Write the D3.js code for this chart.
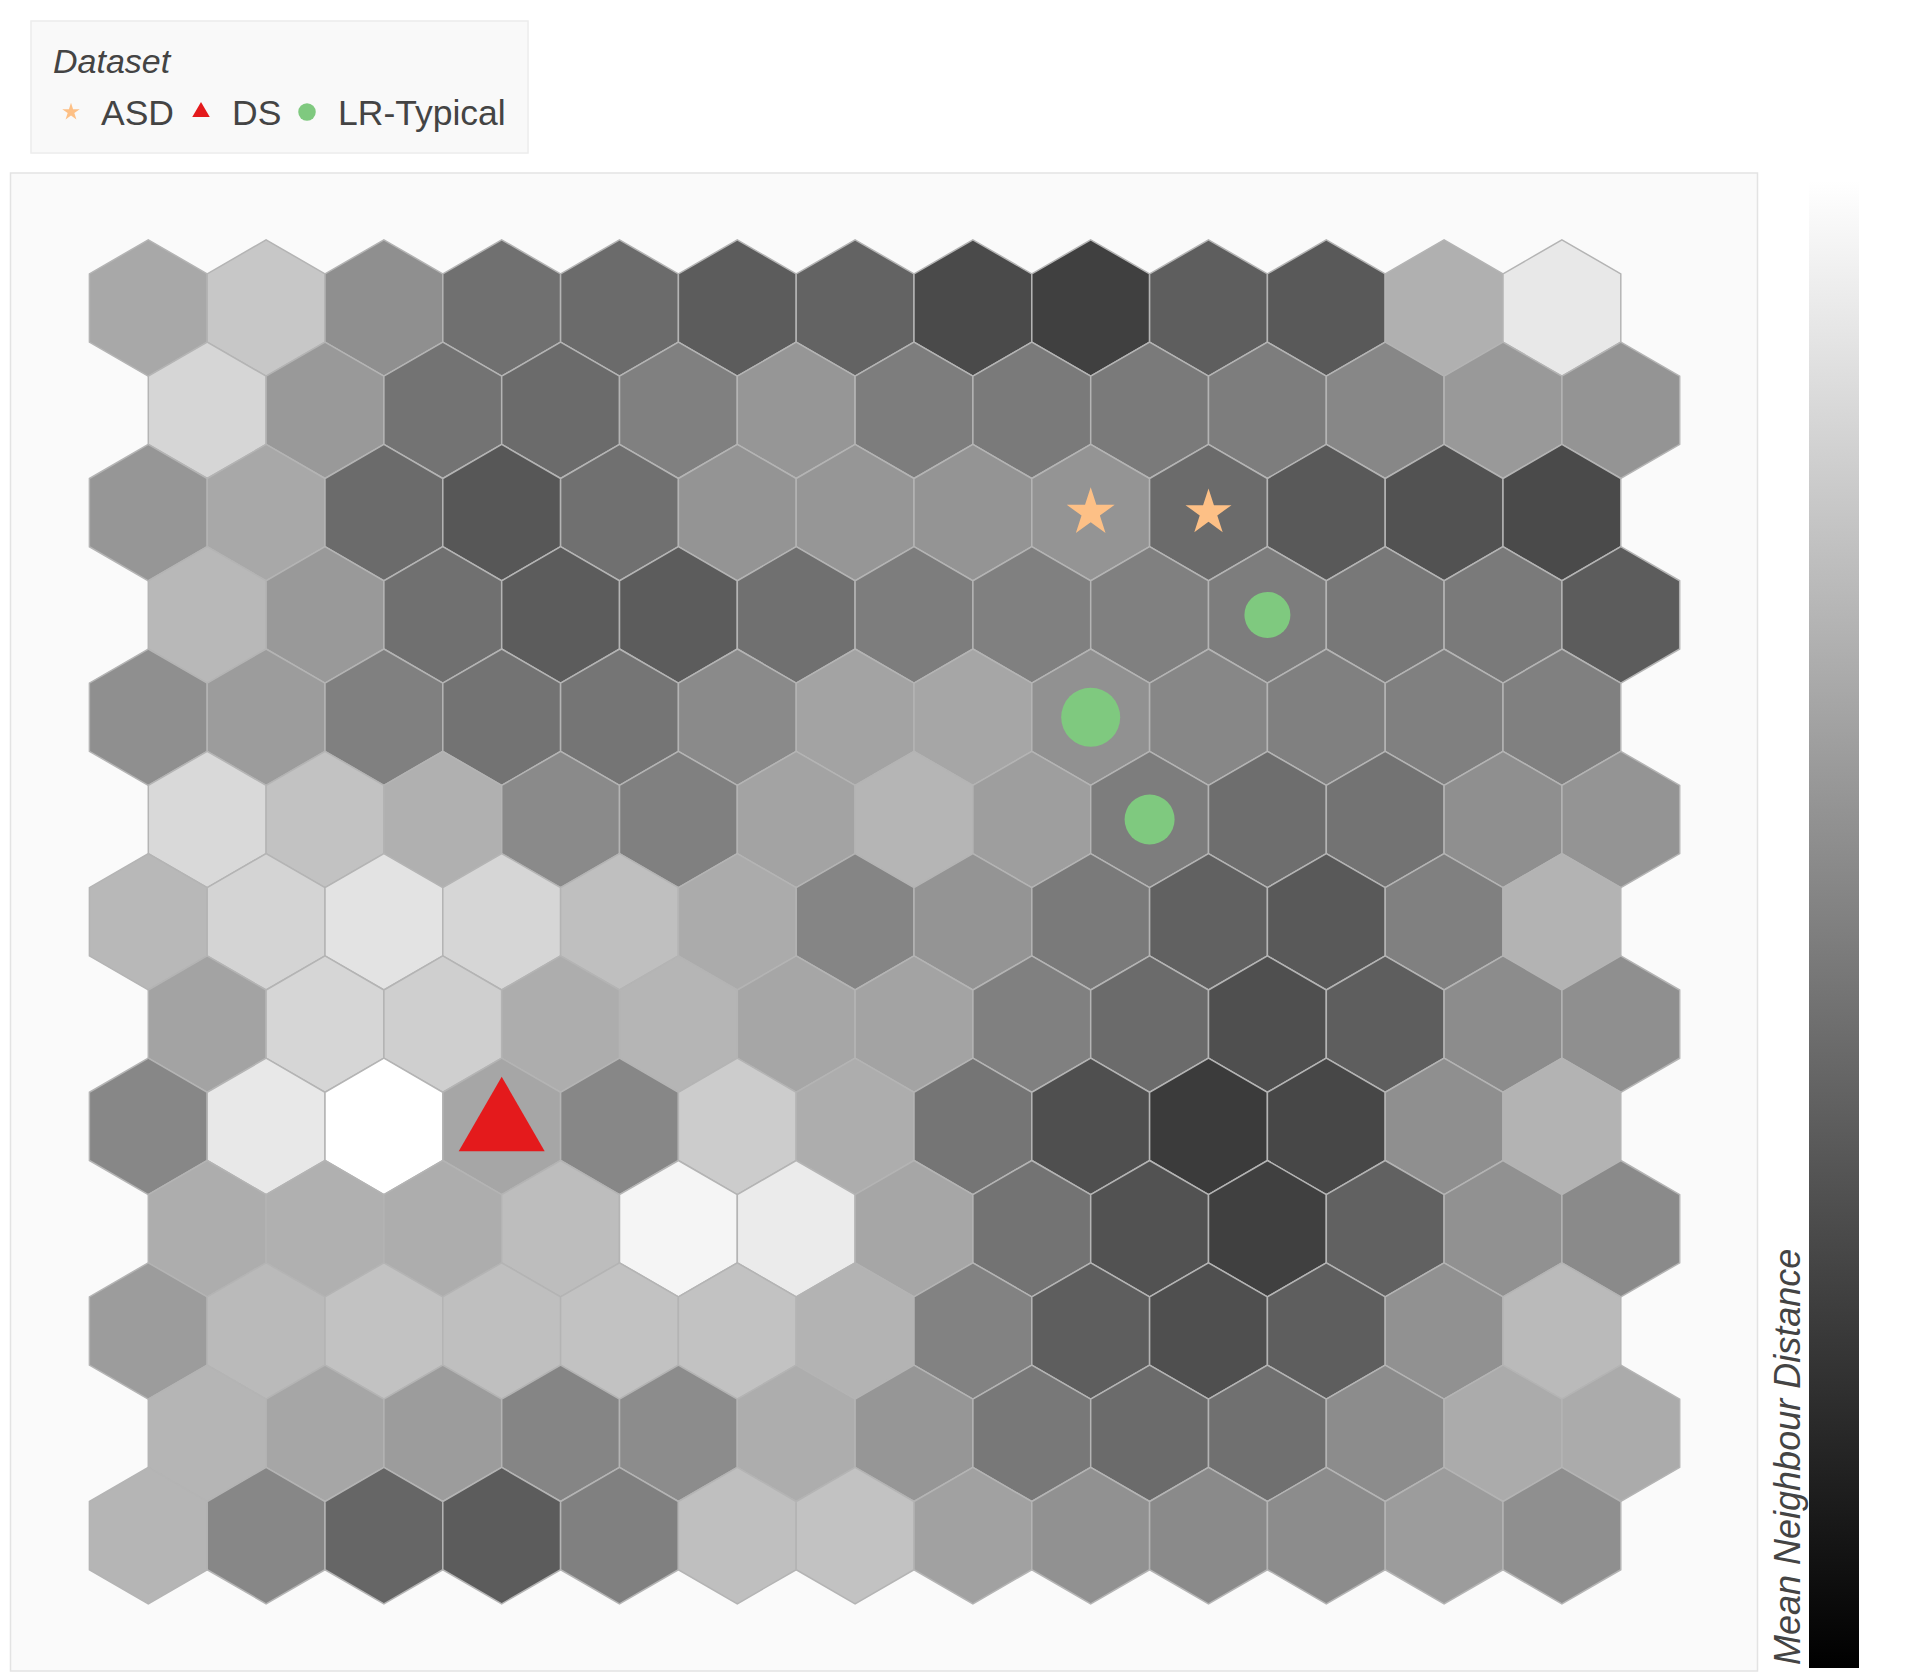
<!DOCTYPE html>
<html>
<head>
<meta charset="utf-8">
<script src="https://cdn.jsdelivr.net/npm/d3@7"></script>
<style>
  body { margin: 0; background: #fff; }
  text { font-family: "Liberation Sans", Arial, sans-serif; fill: #444; }
</style>
</head>
<body>
<svg id="chart" width="1920" height="1680"></svg>
<script>
   // mean neighbour distance of each SOM node (0 = close, 1 = far), 13 x 13 hex grid,
   // odd rows are shifted half a cell to the right
   var neighbourDistance = [
      [.66, .78, .56, .44, .42, .36, .39, .29, .25, .37, .35, .69, .91],
      [.84, .60, .45, .42, .50, .59, .49, .48, .48, .49, .53, .60, .58],
      [.59, .66, .42, .34, .44, .58, .59, .58, .58, .42, .35, .32, .29],
      [.72, .60, .44, .36, .36, .44, .49, .50, .50, .49, .47, .48, .36],
      [.56, .61, .50, .45, .46, .54, .64, .65, .57, .53, .50, .50, .50],
      [.85, .76, .69, .54, .50, .64, .71, .62, .49, .43, .45, .56, .58],
      [.72, .83, .89, .84, .75, .67, .52, .58, .48, .38, .35, .50, .70],
      [.64, .84, .81, .68, .71, .65, .64, .50, .42, .31, .37, .55, .56],
      [.53, .91, 1.0, .65, .53, .80, .68, .46, .31, .23, .28, .56, .70],
      [.68, .69, .68, .74, .96, .92, .65, .45, .32, .25, .38, .57, .54],
      [.61, .73, .76, .75, .76, .76, .70, .51, .37, .31, .37, .57, .73],
      [.71, .65, .61, .52, .55, .68, .59, .47, .42, .44, .55, .67, .67],
      [.71, .53, .40, .36, .50, .75, .76, .63, .57, .54, .55, .61, .56]
   ];

   var datasets = ["ASD", "DS", "LR-Typical"];
   var datasetColors = ["#fdc086", "#e41a1c", "#7fc97f"];

   // best matching units of the samples
   var markerDataset = ["ASD", "ASD", "LR-Typical", "LR-Typical", "LR-Typical", "DS"];
   var markerRow     = [2, 2, 3, 4, 5, 8];
   var markerCol     = [8, 9, 9, 8, 8, 3];
   var markerHits    = [4.8, 4.6, 4.6, 5.9, 5.0, 8.6];

   var svg = d3.select("#chart");

   var cellW = 117.8, cellR = 68.2;
   var nRows = neighbourDistance.length, nCols = neighbourDistance[0].length;

   var x = d3.scaleLinear().domain([0, nCols - 0.5]).range([148.3, 148.3 + (nCols - 0.5) * cellW]);
   var y = d3.scaleLinear().domain([0, nRows - 1]).range([308, 308 + (nRows - 1) * 1.5 * cellR]);
   var grey = d3.scaleLinear().domain([0, 1]).range(["#000000", "#ffffff"]);
   var markerSize = d3.scaleLinear().domain([0, 10]).range([0, 100]);   // hits -> width in px
   var colorOf = d3.scaleOrdinal().domain(datasets).range(datasetColors);
   var shapeOf = d3.scaleOrdinal().domain(datasets).range([d3.symbolStar, d3.symbolTriangle, d3.symbolCircle]);

   function symbolArea(type, w) {
      if (type === d3.symbolStar) {
         var R = w / (2 * Math.sin(Math.PI * 2 / 5));
         return R * R / 0.8908130915292852;
      }
      if (type === d3.symbolTriangle) return Math.sqrt(3) / 4 * w * w;
      return Math.PI * w * w / 4;
   }

   function hexPath(cx, cy) {
      var hw = cellW / 2, r = cellR;
      var pts = [[0, -r], [hw, -r / 2], [hw, r / 2], [0, r], [-hw, r / 2], [-hw, -r / 2]];
      return "M" + pts.map(function(p) { return (cx + p[0]) + "," + (cy + p[1]); }).join("L") + "Z";
   }

   // panel
   svg.append("rect")
      .attr("x", 10.5).attr("y", 173)
      .attr("width", 1747).attr("height", 1498)
      .attr("fill", "#fafafa")
      .attr("stroke", "#e3e3e3")
      .attr("stroke-width", 1.5);

   // hex cells
   var cells = [];
   neighbourDistance.forEach(function(row, i) {
      row.forEach(function(v, j) {
         cells.push({ row: i, col: j, value: v });
      });
   });

   svg.append("g")
      .selectAll("path")
      .data(cells)
      .enter()
      .append("path")
      .attr("d", function(d) { return hexPath(x(d.col + (d.row % 2) * 0.5), y(d.row)); })
      .attr("fill", function(d) { return grey(d.value); })
      .attr("stroke", "#b4b4b4")
      .attr("stroke-width", 1.5);

   // sample markers
   var markers = markerDataset.map(function(ds, k) {
      return { dataset: ds, row: markerRow[k], col: markerCol[k], hits: markerHits[k] };
   });

   svg.append("g")
      .selectAll("path")
      .data(markers)
      .enter()
      .append("path")
      .attr("transform", function(d) {
         return "translate(" + x(d.col + (d.row % 2) * 0.5) + "," + y(d.row) + ")";
      })
      .attr("d", function(d) {
         var t = shapeOf(d.dataset);
         return d3.symbol().type(t).size(symbolArea(t, markerSize(d.hits)))();
      })
      .attr("fill", function(d) { return colorOf(d.dataset); });

   // legend
   var legend = svg.append("g");
   legend.append("rect")
      .attr("x", 31).attr("y", 21)
      .attr("width", 497).attr("height", 132)
      .attr("fill", "#f9f9f9")
      .attr("stroke", "#ececec")
      .attr("stroke-width", 1.5);
   legend.append("text")
      .attr("x", 53).attr("y", 73)
      .attr("font-size", 34)
      .attr("font-style", "italic")
      .text("Dataset");

   var legendSymbolX = [71, 201, 307];
   var legendTextX = [101, 232, 338];
   datasets.forEach(function(ds, k) {
      var t = shapeOf(ds);
      legend.append("path")
         .attr("transform", "translate(" + legendSymbolX[k] + "," + 112 + ")")
         .attr("d", d3.symbol().type(t).size(symbolArea(t, 17.5))())
         .attr("fill", colorOf(ds));
      legend.append("text")
         .attr("x", legendTextX[k]).attr("y", 125)
         .attr("font-size", 35.5)
         .text(ds);
   });

   // colour bar
   var defs = svg.append("defs");
   var grad = defs.append("linearGradient")
      .attr("id", "greyGrad")
      .attr("x1", 0).attr("y1", 0).attr("x2", 0).attr("y2", 1);
   d3.range(0, 1.0001, 0.1).forEach(function(t) {
      grad.append("stop")
         .attr("offset", t)
         .attr("stop-color", grey(1 - t));
   });

   var barScale = d3.scaleLinear().domain([1, 0]).range([181, 1668]);
   svg.append("rect")
      .attr("x", 1809).attr("y", barScale(1))
      .attr("width", 50).attr("height", barScale(0) - barScale(1))
      .attr("fill", "url(#greyGrad)");

   svg.append("text")
      .attr("transform", "translate(1800,1665) rotate(-90)")
      .attr("font-size", 36)
      .attr("font-style", "italic")
      .text("Mean Neighbour Distance");
</script>
</body>
</html>
